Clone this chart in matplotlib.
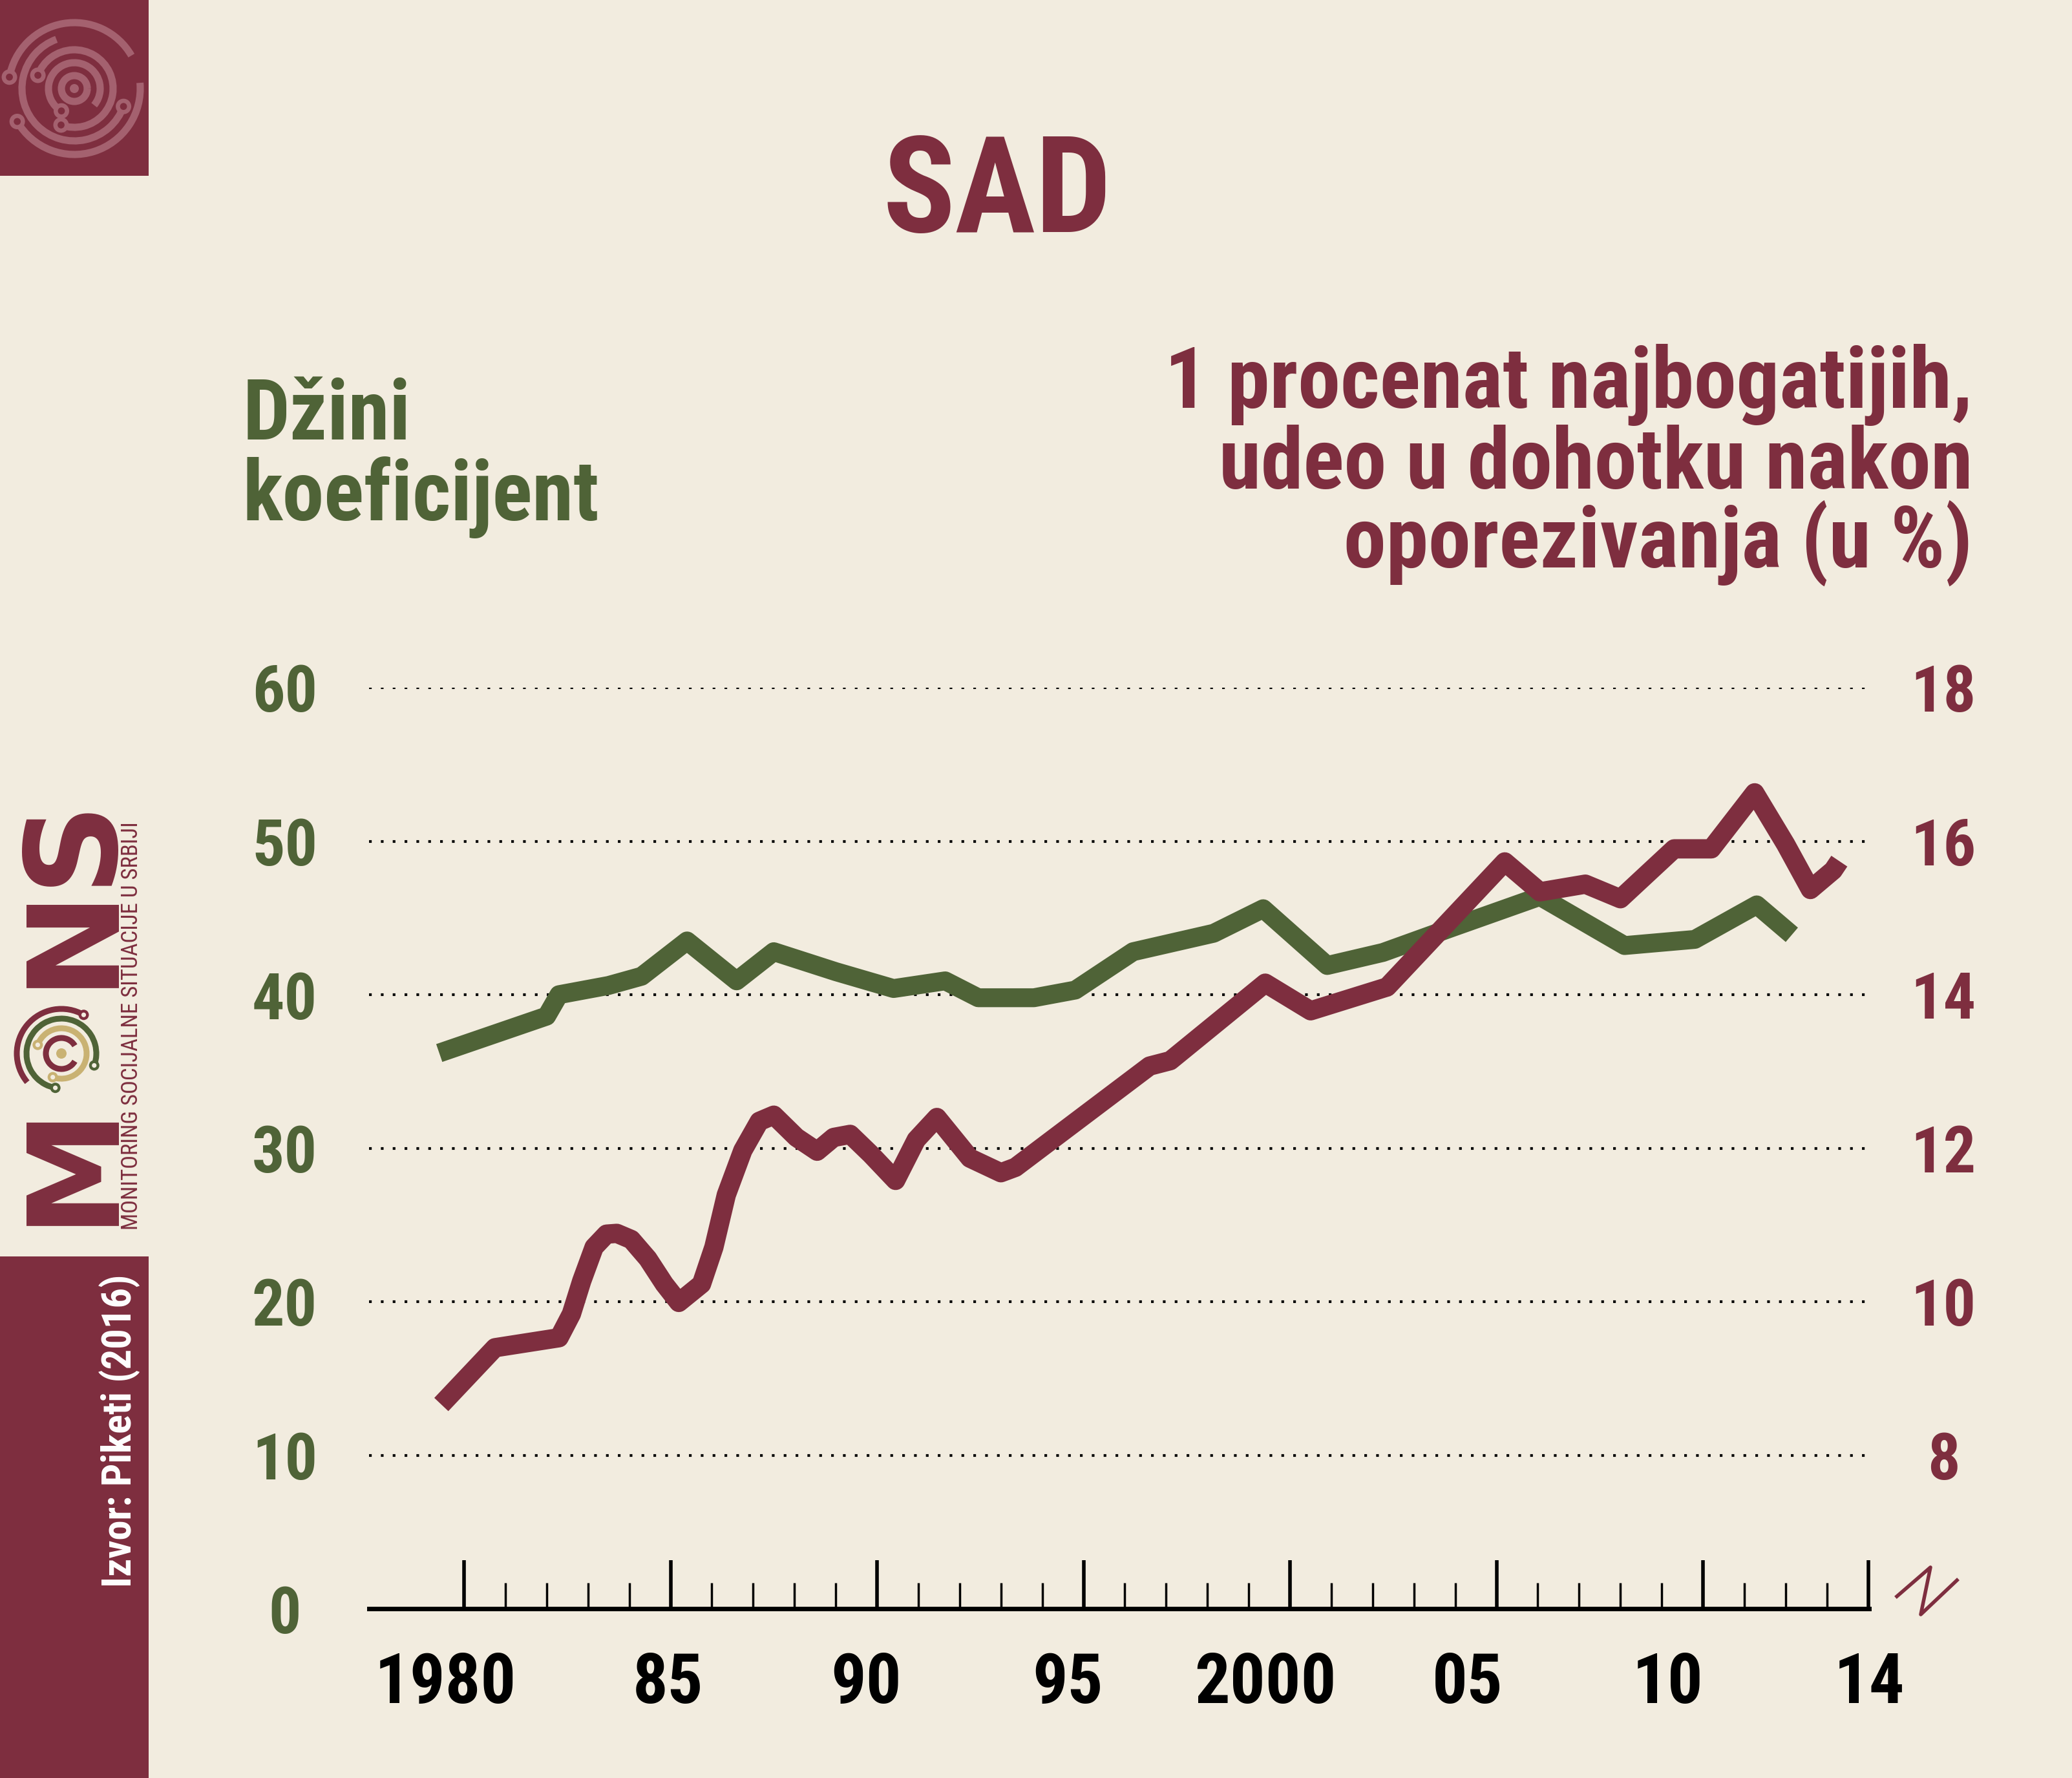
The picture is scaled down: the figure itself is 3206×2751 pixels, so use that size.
import numpy as np
import matplotlib
matplotlib.use("Agg")
import matplotlib.pyplot as plt
from matplotlib.patches import Rectangle, Circle, Arc
from matplotlib.transforms import ScaledTranslation

BG = "#F2ECDF"
MAROON = "#7E2E3F"
GREEN = "#4F6337"
PINK = "#A4616F"
GOLD = "#C9B273"
FONT = ["Roboto Condensed", "Liberation Sans Narrow", "DejaVu Sans"]
STRETCH = "condensed"

# Dzini koeficijent (leva osa)
gini_years = [1979.4, 1982.0, 1982.3, 1983.5, 1984.3, 1985.4, 1986.6, 1987.5,
              1989.0, 1990.4, 1991.65, 1992.45, 1993.8, 1994.8, 1996.2, 1998.15,
              1999.35, 2000.9, 2002.25, 2003.9, 2006.05, 2008.1, 2009.8, 2011.3,
              2012.15]
gini = [36.2, 38.6, 40.0, 40.6, 41.2, 43.5, 40.9, 42.8,
        41.5, 40.4, 40.9, 39.8, 39.8, 40.3, 42.8, 44.0,
        45.6, 41.9, 42.75, 44.35, 46.4, 43.2, 43.6, 45.85,
        43.9]

# 1% najbogatijih, udeo u dohotku (desna osa, %)
top1_years = [1979.45, 1980.75, 1982.3, 1982.6, 1982.85, 1983.15, 1983.45, 1983.7,
              1984.05, 1984.45, 1984.85, 1985.2, 1985.75, 1986.05, 1986.35, 1986.75,
              1987.15, 1987.5, 1988.05, 1988.55, 1988.95, 1989.35, 1989.85, 1990.45,
              1990.95, 1991.45, 1992.25, 1993.0, 1993.35, 1996.6, 1997.1, 1999.4,
              2000.5, 2002.35, 2005.2, 2006.05, 2007.15, 2008.0, 2009.3, 2010.2,
              2011.25, 2012.0, 2012.6, 2013.15, 2013.3]
top1 = [8.66, 9.40, 9.53, 9.84, 10.27, 10.71, 10.88, 10.89,
        10.81, 10.56, 10.23, 9.99, 10.23, 10.71, 11.39, 11.97,
        12.35, 12.43, 12.14, 11.96, 12.14, 12.18, 11.92, 11.58,
        12.11, 12.40, 11.87, 11.68, 11.75, 13.07, 13.14, 14.15,
        13.79, 14.10, 15.73, 15.34, 15.44, 15.25, 15.90, 15.90,
        16.63, 15.96, 15.37, 15.62, 15.74]

x_major = [1980, 1985, 1990, 1995, 2000, 2005, 2010, 2014]
x_labels = ["1980", "85", "90", "95", "2000", "05", "10", "14"]
x_minor = [y for y in range(1981, 2014) if y not in x_major]
gini_ticks = [0, 10, 20, 30, 40, 50, 60]
top1_ticks = [8, 10, 12, 14, 16, 18]

# pomeraj natpisa godina u odnosu na podeok (px), kao u originalu
x_label_shift = [-29, -4, -17, -24, -38, -45, -55, 2]

W, H = 3206, 2751
fig = plt.figure(figsize=(W / 100, H / 100), dpi=100, facecolor=BG)


def fx(px):
    return px / W


def fy(py):
    return 1 - py / H


# dekoracija (logo, trake)
deco = fig.add_axes([0, 0, 1, 1], zorder=0)
deco.set_xlim(0, W)
deco.set_ylim(H, 0)
deco.axis("off")
deco.add_patch(Rectangle((0, 0), 230, 272, color=MAROON, lw=0))
deco.add_patch(Rectangle((0, 1944), 230, H - 1944, color=MAROON, lw=0))


def logo(cx, cy, arcs, dots, lw, knob_r, inner):
    for r, t1, t2, col in arcs:
        deco.add_patch(Arc((cx, cy), 2 * r, 2 * r, theta1=t1, theta2=t2,
                           color=col, lw=lw, capstyle="butt"))
    for r, t, col in dots:
        px = cx + r * np.cos(np.radians(t))
        py = cy + r * np.sin(np.radians(t))
        deco.add_patch(Circle((px, py), knob_r, color=col, lw=0))
        deco.add_patch(Circle((px, py), knob_r * 0.45, color=inner, lw=0))


# gornji levi logo
deco.add_patch(Circle((115, 137), 7, color=PINK, lw=0))
logo(115, 137,
     [(20, 0, 360, PINK), (40, 120, 400, PINK), (60, 200, 470, PINK),
      (81, 20, 250, PINK), (102, 190, 330, PINK), (102, 355, 150, PINK)],
     [(40, 120, PINK), (60, 200, PINK), (81, 20, PINK), (102, 190, PINK),
      (102, 150, PINK), (60, 110, PINK)],
     8, 12, MAROON)

# MONS logo
deco.add_patch(Circle((95, 1630), 8, color=GOLD, lw=0))
logo(95, 1630,
     [(24, 30, 330, MAROON), (39, 200, 470, GOLD), (54, 100, 380, GREEN),
      (69, 140, 300, MAROON)],
     [(39, 200, GOLD), (54, 100, GREEN), (54, 20, GREEN), (69, 300, MAROON),
      (39, 110, GOLD)],
     6.5, 8, BG)

for letter, yc in [("M", 1798), ("N", 1445), ("S", 1300)]:
    fig.text(fx(167), fy(yc), letter, rotation=90, rotation_mode="anchor",
             ha="center", va="baseline", fontsize=142, fontweight="heavy",
             color=MAROON, family="DejaVu Sans")
fig.text(fx(213), fy(1587), "MONITORING SOCIJALNE SITUACIJE U SRBIJI",
         rotation=90, rotation_mode="anchor", ha="center", va="baseline",
         fontsize=25, color=MAROON, family=FONT, fontstretch=STRETCH)
fig.text(fx(203), fy(2214), "Izvor: Piketi (2016)", rotation=90,
         rotation_mode="anchor", ha="center", va="baseline", fontsize=45,
         fontweight="bold", color="white", family=FONT, fontstretch=STRETCH)

# znak prekida ose
deco.plot([2935, 2987, 2972, 3028], [2470, 2425, 2498, 2445], color=MAROON, lw=4)

# glavni grafikon
ax = fig.add_axes([fx(571), fy(2489), fx(2892) - fx(571), fy(1064) - fy(2489)],
                  zorder=2)
ax.set_facecolor("none")
ax.set_xlim(1977.70, 2014.02)
ax.set_ylim(0, 60)

for v in gini_ticks[1:]:
    ax.axhline(v, color="black", lw=3, ls=(0, (1, 3.4)), zorder=1)

for s in ["top", "left", "right"]:
    ax.spines[s].set_visible(False)
ax.spines["bottom"].set_linewidth(5)
ax.spines["bottom"].set_color("black")

ax.set_xticks(x_major)
ax.set_xticklabels(x_labels)
ax.set_xticks(x_minor, minor=True)
ax.tick_params(axis="x", which="major", direction="in", length=54, width=4,
               pad=47, labelsize=78, color="black")
ax.tick_params(axis="x", which="minor", direction="in", length=29, width=2.5,
               color="black")

ax.set_yticks(gini_ticks)
ax.set_yticklabels([str(v) for v in gini_ticks])
ax.tick_params(axis="y", length=0, pad=94, labelsize=72, labelcolor=GREEN)
for lab in ax.get_yticklabels():
    lab.set_ha("center")
    lab.set_fontweight("bold")
    lab.set_family(FONT)
    lab.set_fontstretch(STRETCH)

for lab, dx in zip(ax.get_xticklabels(), x_label_shift):
    lab.set_fontweight("bold")
    lab.set_family(FONT)
    lab.set_fontstretch(STRETCH)
    lab.set_transform(lab.get_transform()
                      + ScaledTranslation(dx / 100, 0, fig.dpi_scale_trans))

ax.plot(gini_years, gini, color=GREEN, lw=21, solid_capstyle="butt",
        solid_joinstyle="round", zorder=3, clip_on=False)

ax2 = ax.twinx()
ax2.set_ylim(6, 18)
for s in ax2.spines.values():
    s.set_visible(False)
ax2.set_yticks(top1_ticks)
ax2.set_yticklabels([str(v) for v in top1_ticks])
ax2.tick_params(axis="y", length=0, pad=83, labelsize=72, labelcolor=MAROON)
for lab in ax2.get_yticklabels():
    lab.set_ha("center")
    lab.set_fontweight("bold")
    lab.set_family(FONT)
    lab.set_fontstretch(STRETCH)

ax2.plot(top1_years, top1, color=MAROON, lw=21.5, solid_capstyle="butt",
         solid_joinstyle="round", zorder=4, clip_on=False)

# naslovi
fig.text(fx(1543), fy(359), "SAD", ha="center", va="baseline", fontsize=150,
         fontweight="bold", color=MAROON, family=FONT, fontstretch=STRETCH)
fig.text(fx(376), fy(680), "Džini", ha="left", va="baseline", fontsize=93,
         fontweight="bold", color=GREEN, family=FONT, fontstretch=STRETCH)
fig.text(fx(376), fy(805), "koeficijent", ha="left", va="baseline", fontsize=93,
         fontweight="bold", color=GREEN, family=FONT, fontstretch=STRETCH)
for line, yb in [("1 procenat najbogatijih,", 631),
                 ("udeo u dohotku nakon", 756),
                 ("oporezivanja (u %)", 878)]:
    fig.text(fx(3052), fy(yb), line, ha="right", va="baseline", fontsize=95,
             fontweight="bold", color=MAROON, family=FONT, fontstretch=STRETCH)

fig.savefig("out.png", dpi=100, facecolor=BG)
